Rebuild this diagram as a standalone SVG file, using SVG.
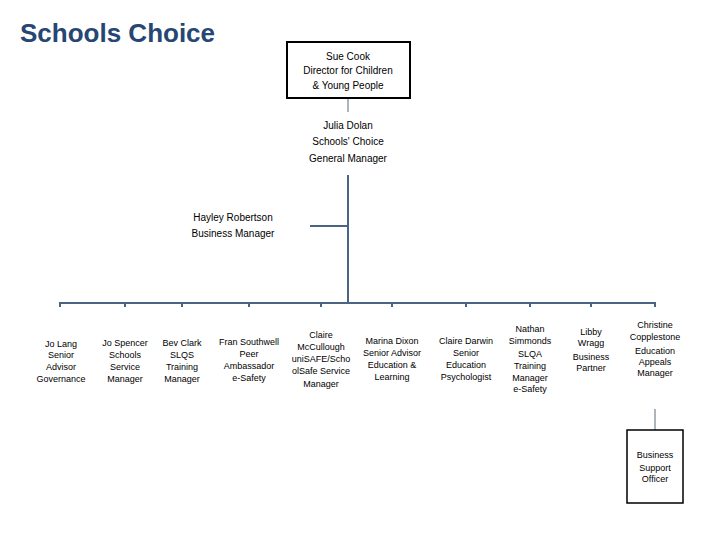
<svg xmlns="http://www.w3.org/2000/svg" width="720" height="540" viewBox="0 0 720 540">
<style>
.t{font-family:"Liberation Sans",Arial,sans-serif;font-size:9px;fill:#000;text-anchor:middle}
.s{font-size:10px}
.title{font-family:"Liberation Sans",Arial,sans-serif;font-size:26px;font-weight:bold;fill:#264673}
.main{stroke:#4a6584;stroke-width:2;fill:none}
.thin{stroke:#5a6a7a;stroke-width:1;fill:none}
.box{fill:#fff;stroke:#000}
</style>
<rect width="720" height="540" fill="#fff"/>
<text class="title" x="20" y="42">Schools Choice</text>
<g id="connectors">
<line class="thin" x1="348" y1="99" x2="348" y2="112"/>
<line class="main" x1="348" y1="175" x2="348" y2="303"/>
<line class="main" x1="310" y1="226" x2="348" y2="226"/>
<line class="main" x1="59" y1="303" x2="656" y2="303"/>
<g class="main" stroke-width="1.5">
<line x1="60" y1="303" x2="60" y2="307"/>
<line x1="125" y1="303" x2="125" y2="307"/>
<line x1="182" y1="303" x2="182" y2="307"/>
<line x1="249" y1="303" x2="249" y2="307"/>
<line x1="321" y1="303" x2="321" y2="307"/>
<line x1="392" y1="303" x2="392" y2="307"/>
<line x1="466" y1="303" x2="466" y2="307"/>
<line x1="530" y1="303" x2="530" y2="307"/>
<line x1="591" y1="303" x2="591" y2="307"/>
<line x1="655" y1="303" x2="655" y2="307"/>
</g>
<line class="thin" x1="655" y1="409" x2="655" y2="430"/>
</g>
<g id="sue-cook">
<rect class="box" x="287" y="42" width="123" height="56" stroke-width="2"/>
<text class="t s" x="348" y="60">Sue Cook</text>
<text class="t s" x="348" y="74">Director for Children</text>
<text class="t s" x="348" y="89">&amp; Young People</text>
</g>
<g id="julia-dolan">
<text class="t s" x="348" y="129">Julia Dolan</text>
<text class="t s" x="348" y="145">Schools' Choice</text>
<text class="t s" x="348" y="162">General Manager</text>
</g>
<g id="hayley-robertson">
<text class="t s" x="233" y="221">Hayley Robertson</text>
<text class="t s" x="233" y="237">Business Manager</text>
</g>
<g id="jo-lang">
<text class="t" x="61" y="347">Jo Lang</text>
<text class="t" x="61" y="358">Senior</text>
<text class="t" x="61" y="370">Advisor</text>
<text class="t" x="61" y="382">Governance</text>
</g>
<g id="jo-spencer">
<text class="t" x="125" y="346">Jo Spencer</text>
<text class="t" x="125" y="358">Schools</text>
<text class="t" x="125" y="370">Service</text>
<text class="t" x="125" y="382">Manager</text>
</g>
<g id="bev-clark">
<text class="t" x="182" y="346">Bev Clark</text>
<text class="t" x="182" y="358">SLQS</text>
<text class="t" x="182" y="370">Training</text>
<text class="t" x="182" y="382">Manager</text>
</g>
<g id="fran-southwell">
<text class="t" x="249" y="345">Fran Southwell</text>
<text class="t" x="249" y="357">Peer</text>
<text class="t" x="249" y="369">Ambassador</text>
<text class="t" x="249" y="381">e-Safety</text>
</g>
<g id="claire-mccullough">
<text class="t" x="321" y="338">Claire</text>
<text class="t" x="321" y="350">McCullough</text>
<text class="t" x="321" y="362">uniSAFE/Scho</text>
<text class="t" x="321" y="374">olSafe Service</text>
<text class="t" x="321" y="387">Manager</text>
</g>
<g id="marina-dixon">
<text class="t" x="392" y="344">Marina Dixon</text>
<text class="t" x="392" y="356">Senior Advisor</text>
<text class="t" x="392" y="368">Education &amp;</text>
<text class="t" x="392" y="380">Learning</text>
</g>
<g id="claire-darwin">
<text class="t" x="466" y="344">Claire Darwin</text>
<text class="t" x="466" y="356">Senior</text>
<text class="t" x="466" y="368">Education</text>
<text class="t" x="466" y="380">Psychologist</text>
</g>
<g id="nathan-simmonds">
<text class="t" x="530" y="332">Nathan</text>
<text class="t" x="530" y="344">Simmonds</text>
<text class="t" x="530" y="357">SLQA</text>
<text class="t" x="530" y="369">Training</text>
<text class="t" x="530" y="381">Manager</text>
<text class="t" x="530" y="392">e-Safety</text>
</g>
<g id="libby-wragg">
<text class="t" x="591" y="335">Libby</text>
<text class="t" x="591" y="346">Wragg</text>
<text class="t" x="591" y="360">Business</text>
<text class="t" x="591" y="371">Partner</text>
</g>
<g id="christine-copplestone">
<text class="t" x="655" y="328">Christine</text>
<text class="t" x="655" y="340">Copplestone</text>
<text class="t" x="655" y="354">Education</text>
<text class="t" x="655" y="365">Appeals</text>
<text class="t" x="655" y="376">Manager</text>
</g>
<g id="business-support-officer">
<rect class="box" x="627" y="430" width="56" height="73" stroke-width="1.5"/>
<text class="t" x="655" y="458">Business</text>
<text class="t" x="655" y="471">Support</text>
<text class="t" x="655" y="482">Officer</text>
</g>
</svg>
